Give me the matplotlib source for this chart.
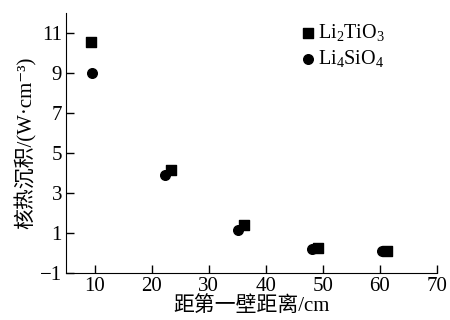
import matplotlib
matplotlib.use("Agg")
import matplotlib.pyplot as plt

x_ti = [9.4, 23.4, 36.2, 49.1, 61.3]
y_ti = [10.55, 4.15, 1.4, 0.27, 0.12]
x_si = [9.5, 22.3, 35.2, 48.1, 60.4]
y_si = [9.0, 3.9, 1.15, 0.22, 0.08]
xticks = [10, 20, 30, 40, 50, 60, 70]
yticks = [-1, 1, 3, 5, 7, 9, 11]

plt.rcParams['font.family'] = ['Liberation Serif', 'Noto Sans CJK SC', 'DejaVu Serif']
plt.rcParams['mathtext.fontset'] = 'custom'
plt.rcParams['mathtext.rm'] = 'Liberation Serif'
plt.rcParams['mathtext.it'] = 'Liberation Serif:italic'

fig = plt.figure(figsize=(4.5, 3.2), dpi=100)
ax = fig.add_axes([0.147, 0.147, 0.824, 0.812])
ax.scatter(x_ti, y_ti, marker='s', s=42, color='black', label=r'Li$_2$TiO$_3$', zorder=3)
ax.scatter(x_si, y_si, marker='o', s=48, color='black', label=r'Li$_4$SiO$_4$', zorder=3)

ax.set_xlim(5, 70)
ax.set_ylim(-1, 12)
ax.set_xticks(xticks)
ax.set_yticks(yticks)
ax.set_yticklabels(['\u22121' if v == -1 else str(v) for v in yticks])
ax.spines['top'].set_visible(False)
ax.spines['right'].set_visible(False)
ax.tick_params(direction='in', length=6, width=1, labelsize=15, pad=3)
ax.set_xlabel('距第一壁距离/cm', fontsize=15, labelpad=0)
ax.set_ylabel('核热沉积/(W·cm\u207b\u00b3)', fontsize=15, labelpad=2)
ax.legend(loc='upper left', frameon=False, fontsize=14.5, handletextpad=0.1,
          borderaxespad=0.0, borderpad=0.0, labelspacing=0.25,
          bbox_to_anchor=(0.631, 0.966), handlelength=0.8)

fig.savefig('out.png', dpi=100)
